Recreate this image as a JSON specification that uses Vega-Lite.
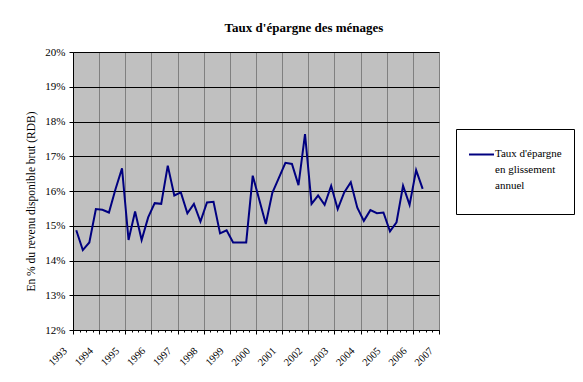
{
  "$schema": "https://vega.github.io/schema/vega-lite/v6.json",
  "width": 366,
  "height": 278,
  "autosize": {"type": "none"},
  "padding": {"left": 73, "top": 52, "right": 144, "bottom": 52},
  "background": "white",
  "title": {"text": "Taux d'épargne des ménages", "font": "Liberation Serif", "fontSize": 13, "fontWeight": "bold", "color": "black", "anchor": "middle", "offset": 11, "dx": 48},
  "data": {"values": [
    {"annee": 1993.125, "taux": 14.87}, {"annee": 1993.375, "taux": 14.30}, {"annee": 1993.625, "taux": 14.52}, {"annee": 1993.875, "taux": 15.48},
    {"annee": 1994.125, "taux": 15.46}, {"annee": 1994.375, "taux": 15.38}, {"annee": 1994.625, "taux": 16.05}, {"annee": 1994.875, "taux": 16.65},
    {"annee": 1995.125, "taux": 14.59}, {"annee": 1995.375, "taux": 15.41}, {"annee": 1995.625, "taux": 14.59}, {"annee": 1995.875, "taux": 15.24},
    {"annee": 1996.125, "taux": 15.65}, {"annee": 1996.375, "taux": 15.63}, {"annee": 1996.625, "taux": 16.73}, {"annee": 1996.875, "taux": 15.87},
    {"annee": 1997.125, "taux": 15.96}, {"annee": 1997.375, "taux": 15.36}, {"annee": 1997.625, "taux": 15.63}, {"annee": 1997.875, "taux": 15.12},
    {"annee": 1998.125, "taux": 15.67}, {"annee": 1998.375, "taux": 15.69}, {"annee": 1998.625, "taux": 14.78}, {"annee": 1998.875, "taux": 14.87},
    {"annee": 1999.125, "taux": 14.52}, {"annee": 1999.375, "taux": 14.52}, {"annee": 1999.625, "taux": 14.52}, {"annee": 1999.875, "taux": 16.44},
    {"annee": 2000.125, "taux": 15.75}, {"annee": 2000.375, "taux": 15.05}, {"annee": 2000.625, "taux": 15.95}, {"annee": 2000.875, "taux": 16.38},
    {"annee": 2001.125, "taux": 16.81}, {"annee": 2001.375, "taux": 16.78}, {"annee": 2001.625, "taux": 16.17}, {"annee": 2001.875, "taux": 17.64},
    {"annee": 2002.125, "taux": 15.63}, {"annee": 2002.375, "taux": 15.87}, {"annee": 2002.625, "taux": 15.60}, {"annee": 2002.875, "taux": 16.15},
    {"annee": 2003.125, "taux": 15.48}, {"annee": 2003.375, "taux": 15.96}, {"annee": 2003.625, "taux": 16.25}, {"annee": 2003.875, "taux": 15.52},
    {"annee": 2004.125, "taux": 15.14}, {"annee": 2004.375, "taux": 15.45}, {"annee": 2004.625, "taux": 15.36}, {"annee": 2004.875, "taux": 15.38},
    {"annee": 2005.125, "taux": 14.84}, {"annee": 2005.375, "taux": 15.10}, {"annee": 2005.625, "taux": 16.15}, {"annee": 2005.875, "taux": 15.60},
    {"annee": 2006.125, "taux": 16.60}, {"annee": 2006.375, "taux": 16.06}
  ]},
  "mark": {"type": "line", "strokeWidth": 2},
  "encoding": {
    "x": {
      "field": "annee", "type": "quantitative",
      "scale": {"domain": [1993, 2007], "nice": false, "zero": false},
      "axis": {
        "title": null,
        "values": [1993,1993.25,1993.5,1993.75,1994,1994.25,1994.5,1994.75,1995,1995.25,1995.5,1995.75,1996,1996.25,1996.5,1996.75,1997,1997.25,1997.5,1997.75,1998,1998.25,1998.5,1998.75,1999,1999.25,1999.5,1999.75,2000,2000.25,2000.5,2000.75,2001,2001.25,2001.5,2001.75,2002,2002.25,2002.5,2002.75,2003,2003.25,2003.5,2003.75,2004,2004.25,2004.5,2004.75,2005,2005.25,2005.5,2005.75,2006,2006.25,2006.5,2006.75,2007],
        "labelExpr": "datum.value % 1 === 0 ? '' + datum.value : ''",
        "labelAngle": -45, "labelAlign": "right", "labelBaseline": "middle",
        "labelFont": "Liberation Serif", "labelFontSize": 10.5, "labelColor": "black",
        "labelPadding": 15, "labelOffset": -8, "labelOverlap": false, "labelFlush": false, "labelBound": false,
        "tickColor": "black",
        "tickSize": {"condition": {"test": "datum.value % 1 === 0", "value": 4}, "value": 2},
        "grid": true, "gridColor": "#808080",
        "gridOpacity": {"condition": {"test": "datum.value % 1 === 0", "value": 1}, "value": 0},
        "domainColor": "black"
      }
    },
    "y": {
      "field": "taux", "type": "quantitative",
      "scale": {"domain": [12, 20], "nice": false, "zero": false},
      "axis": {
        "title": "En % du revenu disponible brut (RDB)",
        "titleFont": "Liberation Serif", "titleFontSize": 11.5, "titleFontWeight": "normal", "titleColor": "black", "titlePadding": 8, "titleY": 149,
        "values": [12, 13, 14, 15, 16, 17, 18, 19, 20],
        "labelExpr": "datum.value + '%'",
        "labelFont": "Liberation Serif", "labelFontSize": 11, "labelColor": "black", "labelPadding": 4,
        "tickColor": "black", "tickSize": 4,
        "grid": true, "gridColor": "black", "domainColor": "black"
      }
    },
    "color": {
      "datum": "Taux d'épargne en glissement annuel",
      "scale": {"range": ["#000080"]},
      "legend": {
        "title": "\u00a0", "titleOrient": "bottom", "titleFontSize": 9, "titlePadding": 2, "titleColor": "white",
        "orient": "none", "legendX": 383, "legendY": 77,
        "symbolType": "stroke", "symbolSize": 625, "symbolStrokeWidth": 2,
        "labelExpr": "[\"Taux d'épargne\", \"en glissement\", \"annuel\"]",
        "labelFont": "Liberation Serif", "labelFontSize": 11, "labelColor": "black", "labelLimit": 200, "labelOffset": 0,
        "labelBaseline": "alphabetic",
        "strokeColor": "black", "fillColor": "white", "padding": 12,
        "encoding": {"labels": {"lineHeight": {"value": 16}, "font": {"value": "Liberation Serif"}, "dy": {"value": 2}}}
      }
    }
  },
  "config": {
    "view": {"fill": "#c0c0c0", "stroke": "#808080", "strokeWidth": 1},
    "font": "Liberation Serif",
    "legend": {"labelFont": "Liberation Serif", "titleFont": "Liberation Serif"}
  }
}
